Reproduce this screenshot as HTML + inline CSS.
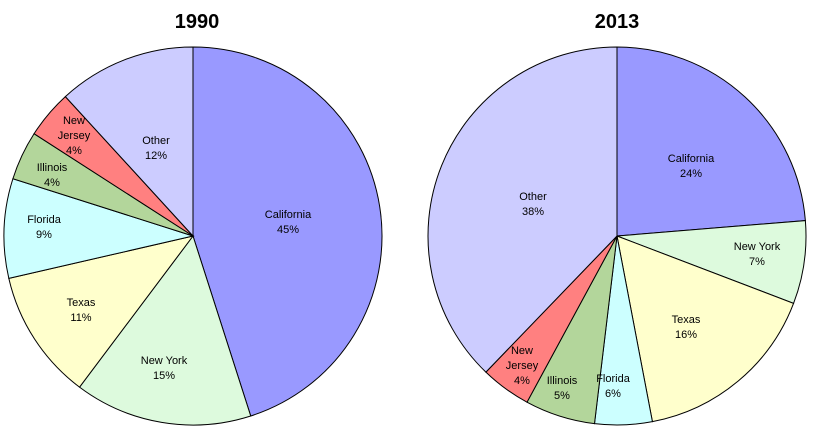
<!DOCTYPE html>
<html><head><meta charset="utf-8"><style>
body{margin:0;background:#fff;}
svg text{font-family:"Liberation Sans",Arial,sans-serif;font-size:11px;fill:#000;text-anchor:middle;}
svg text.t{font-size:20px;font-weight:bold;}
</style></head><body>
<svg id="s" width="837" height="428" xmlns="http://www.w3.org/2000/svg">
<text class="t" x="197" y="28">1990</text>
<text class="t" x="617" y="28">2013</text>
</svg>
<script>
var s=document.getElementById('s');
function pie(cx,cy,r,sl){
  var a0=0;
  sl.forEach(function(d){
    var a1=d[0]*3.6*Math.PI/180;
    var x0=cx+r*Math.sin(a0),y0=cy-r*Math.cos(a0),x1=cx+r*Math.sin(a1),y1=cy-r*Math.cos(a1);
    var large=(a1-a0)>Math.PI?1:0;
    var p=document.createElementNS('http://www.w3.org/2000/svg','path');
    p.setAttribute('d','M'+cx+','+cy+'L'+x0+','+y0+'A'+r+','+r+' 0 '+large+' 1 '+x1+','+y1+'Z');
    p.setAttribute('fill',d[1]);p.setAttribute('stroke','#000');p.setAttribute('stroke-width','1');
    s.appendChild(p);a0=a1;
  });
}
function lab(x,y,lines){
  lines.forEach(function(l,i){
    var t=document.createElementNS('http://www.w3.org/2000/svg','text');
    t.setAttribute('x',x);t.setAttribute('y',y+i*15);t.textContent=l;s.appendChild(t);
  });
}
pie(193,236,189,[[45.06,'#9999ff'],[60.25,'#ddfadd'],[71.4,'#ffffcc'],[79.9,'#ccffff'],[84.1,'#b3d69b'],[88.2,'#ff8080'],[100,'#ccccff']]);
pie(617,236,189,[[23.7,'#9999ff'],[30.8,'#ddfadd'],[47.0,'#ffffcc'],[51.9,'#ccffff'],[57.9,'#b3d69b'],[62.2,'#ff8080'],[100,'#ccccff']]);
lab(288,218,['California','45%']);
lab(164,364,['New York','15%']);
lab(81,306,['Texas','11%']);
lab(44,223,['Florida','9%']);
lab(52,171,['Illinois','4%']);
lab(74,124,['New','Jersey','4%']);
lab(156,144,['Other','12%']);
lab(691,162,['California','24%']);
lab(757,250,['New York','7%']);
lab(686,323,['Texas','16%']);
lab(613,382,['Florida','6%']);
lab(562,384,['Illinois','5%']);
lab(522,354,['New','Jersey','4%']);
lab(533,200,['Other','38%']);
</script>
</body></html>
